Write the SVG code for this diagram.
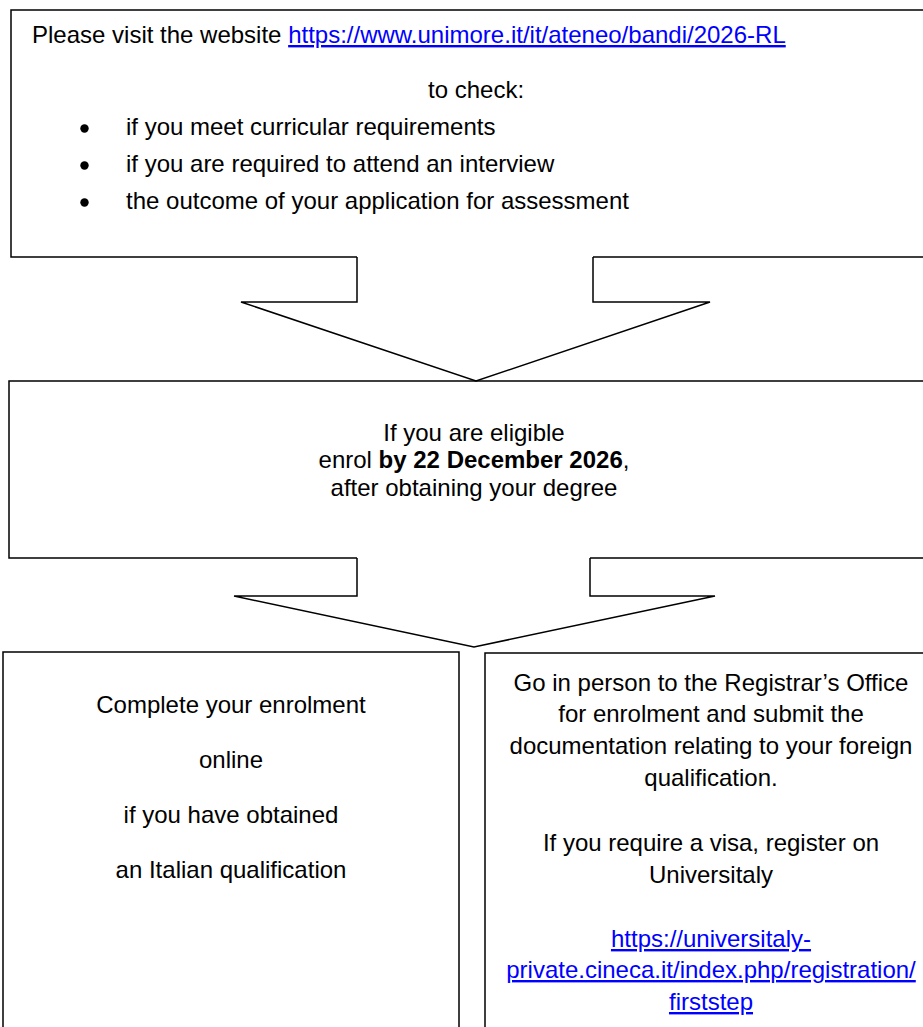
<svg xmlns="http://www.w3.org/2000/svg" width="923" height="1027" viewBox="0 0 923 1027">
  <style>
    .shape { fill: none; stroke: #000; stroke-width: 1.5; stroke-linejoin: miter; }
    text { font-family: "Liberation Sans", Arial, sans-serif; font-size: 24px; fill: #000; }
    .c { text-anchor: middle; }
    .link { fill: #0000FF; text-decoration: underline; }
    .b { font-weight: bold; }
  </style>
  <rect x="0" y="0" width="923" height="1027" fill="#fff"/>

  <g id="node-visit">
    <path class="shape" d="M357,257 H11 V10 H940 V257 H593"/>
    <text x="32" y="43">Please visit the website <tspan class="link">https://www.unimore.it/it/ateneo/bandi/2026-RL</tspan></text>
    <text x="428" y="98">to check:</text>
    <circle cx="84.5" cy="128.5" r="4.2" fill="#000"/>
    <circle cx="84.5" cy="165.5" r="4.2" fill="#000"/>
    <circle cx="84.5" cy="202.5" r="4.2" fill="#000"/>
    <text x="126" y="135">if you meet curricular requirements</text>
    <text x="126" y="172">if you are required to attend an interview</text>
    <text x="126" y="209">the outcome of your application for assessment</text>
  </g>

  <g id="node-enrol">
    <path class="shape" d="M357,558 H9 V381 H940 V558 H590"/>
    <text class="c" x="474" y="441">If you are eligible</text>
    <text class="c" x="474" y="468">enrol <tspan class="b">by 22 December 2026</tspan>,</text>
    <text class="c" x="474" y="496">after obtaining your degree</text>
  </g>

  <g id="node-online">
    <path class="shape" d="M3,1040 V652 H459 V1040"/>
    <text class="c" x="231" y="713">Complete your enrolment</text>
    <text class="c" x="231" y="768">online</text>
    <text class="c" x="231" y="823">if you have obtained</text>
    <text class="c" x="231" y="878">an Italian qualification</text>
  </g>

  <g id="node-office">
    <path class="shape" d="M485,1040 V653 H940"/>
    <text class="c" x="711" y="691">Go in person to the Registrar’s Office</text>
    <text class="c" x="711" y="722">for enrolment and submit the</text>
    <text class="c" x="711" y="754">documentation relating to your foreign</text>
    <text class="c" x="711" y="786">qualification.</text>
    <text class="c" x="711" y="851">If you require a visa, register on</text>
    <text class="c" x="711" y="883">Universitaly</text>
    <text class="c link" x="711" y="947">https://universitaly-</text>
    <text class="c link" x="711" y="978">private.cineca.it/index.php/registration/</text>
    <text class="c link" x="711" y="1010">firststep</text>
  </g>

  <g id="connectors">
    <path class="shape" d="M357,257 V302 H241 L476,381 L710,302 H593 V257"/>
    <path class="shape" d="M357,558 V596 H234 L474,647 L715,596 H590 V558"/>
  </g>
</svg>
